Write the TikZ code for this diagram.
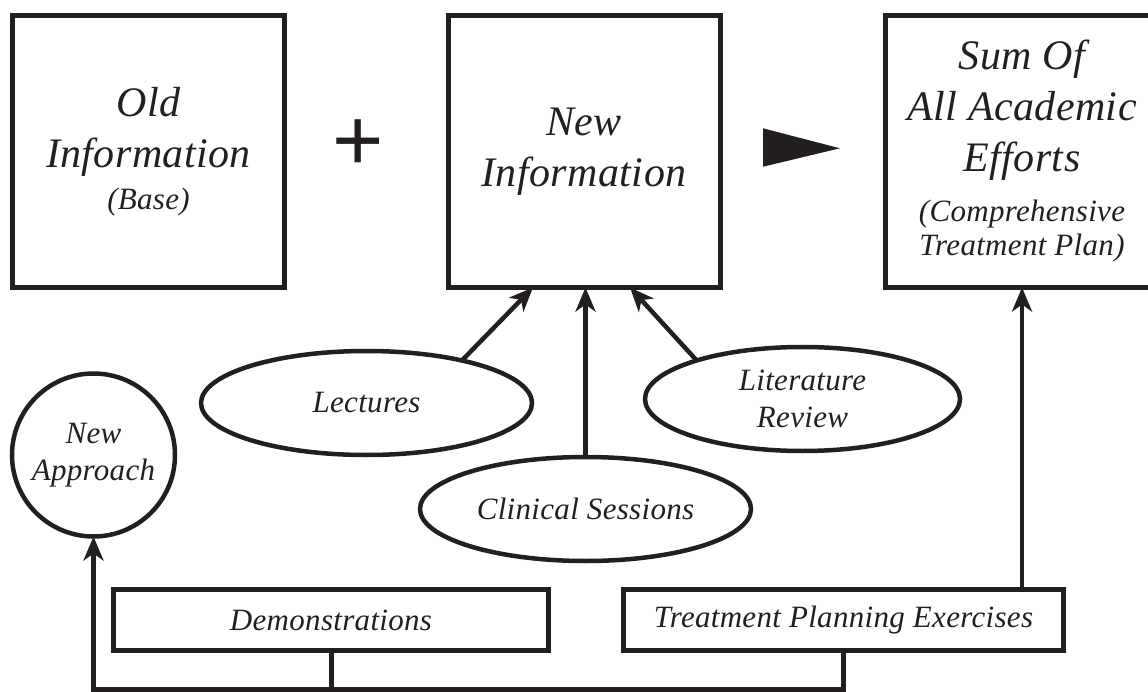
\documentclass[tikz,border=0pt]{standalone}
\usepackage{fontspec}
\setmainfont{Liberation Serif}
\newfontfamily\dgfam[LetterSpace=1]{Liberation Serif Italic}
\newfontfamily\dgsans{Liberation Sans}
\usetikzlibrary{shapes.geometric,arrows.meta,calc}
\definecolor{ink}{RGB}{35,31,32}
\newcommand\dgbig{\dgfam\fontsize{42}{51}\selectfont}
\newcommand\dgmid{\dgfam\fontsize{31}{37}\selectfont}
\newcommand\dgsmall{\dgfam\fontsize{31}{32}\selectfont}
\begin{document}
\begin{tikzpicture}[x=1pt,y=-1pt,
  every node/.style={outer sep=0pt, inner sep=0pt, text=ink},
  box/.style={draw=ink, line width=5pt, minimum width=272pt, minimum height=272pt, align=center, font=\dgbig},
  oval/.style={draw=ink, ellipse, line width=4.5pt, minimum width=331pt, minimum height=104pt, align=center, font=\dgmid},
  strip/.style={draw=ink, line width=5pt, minimum height=61pt, font=\dgmid},
  arr/.style={draw=ink, line width=4.5pt, -{Stealth[length=24pt,width=20pt,inset=7pt]}},
  link/.style={draw=ink, line width=5pt}]
\useasboundingbox (0,0) rectangle (1148,692);
% top row
\node[box] (old) at (148.5,151.5) {Old\\Information\\[-9pt]{\dgsmall (Base)}};
\node[box] (new) at (584,151.5) {New\\Information};
\node[box, minimum width=273pt] (sum) at (1022,151.5) {Sum Of\\All Academic\\Efforts\\[-1pt]{\dgsmall (Comprehensive}\\[-17pt]{\dgsmall Treatment Plan)}};
\node[font=\dgsans\fontsize{88}{88}\selectfont] (plus) at (358.5,145) {+};
\fill[ink] (763,128.3) -- (840,148.3) -- (763,166.7) -- cycle;
% sources
\node[oval] (lect) at (366.5,403) {Lectures};
\node[oval] (clin) at (585.5,509) {Clinical Sessions};
\node[oval, minimum width=315pt] (lit) at (802.5,399) {Literature\\Review};
\node[draw=ink, circle, line width=4.5pt, minimum size=163pt, align=center, font=\dgmid] (na) at (93.5,455) {New\\Approach};
\node[strip, minimum width=435pt] (demo) at (331,620) {Demonstrations};
\node[strip, minimum width=440pt] (treat) at (843.5,620) {Treatment Planning Exercises};
% connectors
\coordinate (bl) at (93.5,689.5);
\draw[arr] (lect.24) -- ([xshift=-51pt]new.south);
\draw[arr] (clin.north) -- (clin.north |- new.south);
\draw[arr] (lit.160) -- ([xshift=46pt]new.south);
\draw[arr] (treat.north -| sum.south) -- (sum.south);
\draw[link] (demo.south) -- (demo.south |- bl);
\draw[arr, line width=5pt] (treat.south) |- (bl) -- (na.south);
\end{tikzpicture}
\end{document}
